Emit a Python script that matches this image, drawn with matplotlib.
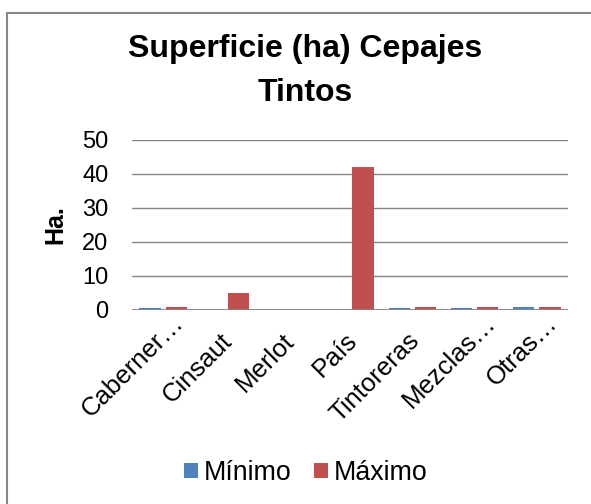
import numpy as np
import matplotlib
matplotlib.use("Agg")
import matplotlib.pyplot as plt
import matplotlib.transforms as mtransforms
from matplotlib.patches import Rectangle

plt.rcParams['font.family'] = ['Liberation Sans', 'DejaVu Sans']

# datos
categorias = ["Caberner…", "Cinsaut", "Merlot", "País", "Tintoreras", "Mezclas…", "Otras…"]
minimo = [0.6, 0.1, 0.0, 0.0, 0.6, 0.6, 1.0]
maximo = [1.0, 5.0, 0.0, 42.0, 1.0, 1.0, 1.0]

azul = "#4f81bd"
rojo = "#c0504d"
gris = "#868686"

W, H = 591, 504
fig = plt.figure(figsize=(W/100, H/100), dpi=100)
# marco del grafico (recortado a la derecha y abajo)
fig.patches.append(Rectangle((7/W, -0.1), 1.2, (H-13)/H + 0.1,
                             transform=fig.transFigure, fill=False,
                             edgecolor=gris, linewidth=1.5))

ax = fig.add_axes([132/W, 1 - 310/H, (568-132)/W, (310-140)/H])

x = np.arange(len(categorias))
ancho = 0.34
ax.bar(x - 0.21, minimo, ancho, color=azul, label="Mínimo", zorder=3)
ax.bar(x + 0.21, maximo, ancho, color=rojo, label="Máximo", zorder=3)

ax.set_xlim(-0.5, len(categorias) - 0.5)
ax.set_ylim(0, 50)
ax.set_yticks(range(0, 51, 10))
ax.yaxis.grid(True, color=gris, linewidth=1.0, zorder=0)
ax.axhline(0, color=gris, linewidth=2.0, zorder=4)
for s in ax.spines.values():
    s.set_visible(False)
ax.tick_params(axis='y', length=0, labelsize=17, pad=17)
ax.tick_params(axis='x', length=0, pad=0)

ax.set_xticks(x)
ax.set_xticklabels(categorias, rotation=45, ha='right', va='center',
                   rotation_mode='anchor', fontsize=18.5)
for lbl in ax.get_xticklabels():
    # las etiquetas truncadas quedan mas arriba y a la derecha
    if lbl.get_text().endswith("…"):
        dx, dy = 17, -9
    else:
        dx, dy = 3, -27
    lbl.set_transform(lbl.get_transform() +
                      mtransforms.ScaledTranslation(dx/100, dy/100, fig.dpi_scale_trans))

fig.text(55/W, 1 - 225/H, "Ha.", rotation=90, ha='center', va='center',
         fontsize=18, fontweight='bold')
fig.text(305/W, 1 - 49/H, "Superficie (ha) Cepajes", ha='center', va='center',
         fontsize=23, fontweight='bold')
fig.text(305/W, 1 - 93/H, "Tintos", ha='center', va='center',
         fontsize=23, fontweight='bold')

fig.legend(loc='center', bbox_to_anchor=(306/W, 1 - 473/H), ncol=2, frameon=False,
           fontsize=19.3, handlelength=0.52, handleheight=0.52, handletextpad=0.22,
           columnspacing=0.85, borderpad=0, borderaxespad=0)

fig.savefig("out.png", dpi=100)
